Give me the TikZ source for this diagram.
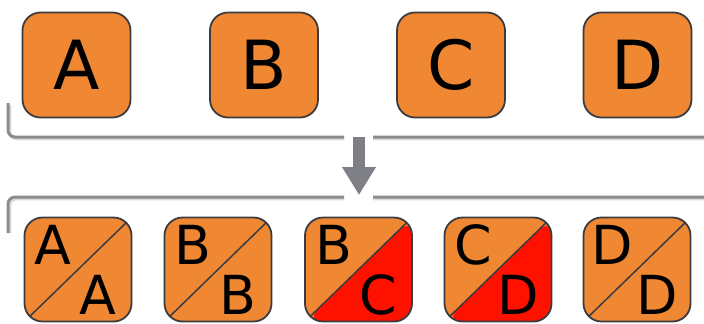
\documentclass[tikz,border=0pt]{standalone}
\usepackage{fontspec}
\setmainfont{DejaVu Sans}
\usetikzlibrary{arrows.meta}
\definecolor{boxorange}{RGB}{239,135,51}
\definecolor{boxred}{RGB}{255,17,0}
\definecolor{boxline}{RGB}{60,60,64}
\definecolor{bracketgray}{RGB}{140,140,142}
\definecolor{bracketshadow}{RGB}{218,218,218}
\definecolor{arrowgray}{RGB}{127,127,134}
\tikzset{
  x=1bp, y=-1bp,
  topbox/.style={draw=boxline, line width=1.8bp, fill=boxorange, rounded corners=18bp,
    minimum width=108bp, minimum height=105bp, inner sep=0pt,
    font=\fontsize{68}{68}\selectfont},
  botbox/.style={draw=boxline, line width=1.8bp, fill=boxorange, rounded corners=18bp,
    minimum width=107bp, minimum height=104bp, inner sep=0pt,
    path picture={\draw[boxline, line width=1.5bp]
      (path picture bounding box.south west) -- (path picture bounding box.north east);}},
  redbox/.style={botbox,
    path picture={\fill[boxred]
      (path picture bounding box.south west) -- (path picture bounding box.north east)
      -- (path picture bounding box.south east) -- cycle;
      \draw[boxline, line width=1.5bp]
      (path picture bounding box.south west) -- (path picture bounding box.north east);}},
  letter/.style={inner sep=0pt, font=\fontsize{54}{54}\selectfont},
  bracket/.style={bracketgray, line width=3bp, rounded corners=7bp},
  bracketsh/.style={bracketshadow, line width=3bp, rounded corners=7bp},
}
\begin{document}
\begin{tikzpicture}
\useasboundingbox (0,0) rectangle (704,323);
% brackets (shadow then line)
\coordinate (t1) at (8,103);
\coordinate (t2) at (344,137);
\coordinate (t3) at (373,137);
\coordinate (t4) at (712,103);
\coordinate (b1) at (8,233);
\coordinate (b2) at (344,197);
\coordinate (b3) at (373,197);
\coordinate (b4) at (712,233);
\draw[bracketsh] ([shift={(1.8,1.8)}]t1) |- ([shift={(0,1.8)}]t2);
\draw[bracketsh] ([shift={(0,1.8)}]t3) -| ([shift={(-1.8,1.8)}]t4);
\draw[bracketsh] ([shift={(1.8,0)}]b1) |- ([shift={(0,1.8)}]b2);
\draw[bracketsh] ([shift={(0,1.8)}]b3) -| ([shift={(-1.8,0)}]b4);
\draw[bracket] (t1) |- (t2);
\draw[bracket] (t3) -| (t4);
\draw[bracket] (b1) |- (b2);
\draw[bracket] (b3) -| (b4);
% arrow
\coordinate (arrtop) at (359,137);
\coordinate (arrtip) at (359,195);
\draw[arrowgray, line width=12bp, -{Triangle[width=32bp,length=28bp]}] (arrtop) -- (arrtip);
% top boxes
\node[topbox] (A) at (76.5,65) {A};
\node[topbox] (B) at (264,65) {B};
\node[topbox] (C) at (451,65) {C};
\node[topbox] (D) at (637.5,65) {D};
% bottom boxes
\node[botbox] (AA) at (78,269.5) {};
\node[botbox] (BB) at (218,269.5) {};
\node[redbox] (BC) at (358.5,269.5) {};
\node[redbox] (CD) at (498,269.5) {};
\node[botbox] (DD) at (637,269.5) {};
% letters
\foreach \n/\u/\l in {AA/A/A, BB/B/B, BC/B/C, CD/C/D, DD/D/D}{
  \node[letter] (\n-up) at ([shift={(-25,-25)}]\n.center) {\u};
  \node[letter] (\n-lo) at ([shift={(20,25)}]\n.center) {\l};
}
\end{tikzpicture}
\end{document}
